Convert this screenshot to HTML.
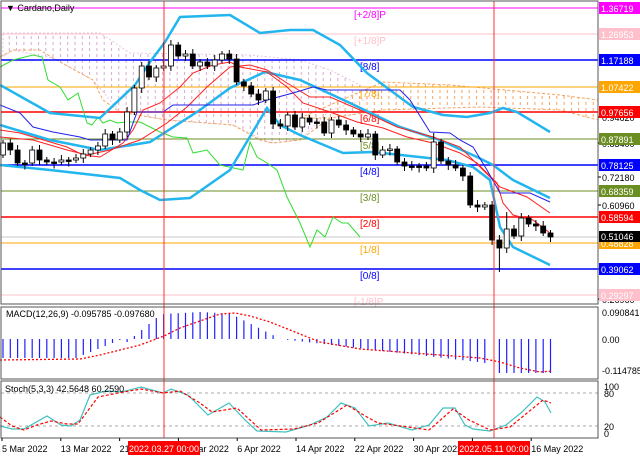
<!DOCTYPE html>
<html><head><meta charset="utf-8"><style>
body{margin:0;background:#fff;width:640px;height:457px;overflow:hidden}
svg{display:block;font-family:"Liberation Sans",sans-serif}
</style></head><body>
<svg id="s" width="640" height="457" xmlns="http://www.w3.org/2000/svg">
<defs>
<pattern id="pk" width="7.3" height="6" patternUnits="userSpaceOnUse"><line x1="2" y1="0" x2="2" y2="3" stroke="#d8a8d0" stroke-width="1"/></pattern>
<pattern id="or" width="7.3" height="6" patternUnits="userSpaceOnUse"><line x1="2" y1="0" x2="2" y2="3" stroke="#f4a460" stroke-width="1"/></pattern>
</defs>
<rect width="640" height="457" fill="#fff"/>
<g id="g"></g>
</svg>
<script>
var g=document.getElementById('g'),h='';
function X(d){return 3+7.3*d}
function pl(pts,c,w,da){h+='<polyline fill="none" stroke="'+c+'" stroke-width="'+w+'"'+(da?' stroke-dasharray="'+da+'"':'')+' points="'+pts.map(p=>p.join(',')).join(' ')+'"/>';}
function tx(x,y,t,c,s,a){h+='<text x="'+x+'" y="'+y+'" fill="'+c+'" font-size="'+(s||10)+'"'+(a?' text-anchor="'+a+'"':'')+'>'+t+'</text>';}
h+='<polygon fill="url(#pk)" stroke="#e8c8e0" stroke-dasharray="2,2" points="3,33 100,33 130,53 250,55 300,60 330,70 380,95 330,110 300,140 270,143 233,125 167,120 120,112 93,80 53,58 13,50 3,57"/>';
h+='<polygon fill="url(#or)" stroke="#f4a460" stroke-dasharray="3,2" points="300,118 383,82 450,85 560,95 598,100 598,120 560,110 480,107 383,110 330,118"/>';
pl([[0,57],[13,50],[40,50],[53,58],[80,73],[93,80],[103,100],[120,112],[167,120],[233,125],[260,140],[273,143],[300,140],[330,118]],'#f4a460',1,'3,2');
var L=[[8,'#ff00ff','[+2/8]P','1.36719'],[34,'#ffc0cb','[+1/8]P','1.26953'],[60,'#0000ff','[8/8]','1.17188'],[87,'#ffa500','[7/8]','1.07422'],[112,'#ff0000','[6/8]','0.97656'],[139,'#6b8e23','[5/8]','0.87891'],[165,'#0000ff','[4/8]','0.78125'],[191,'#6b8e23','[3/8]','0.68359'],[217,'#ff0000','[2/8]','0.58594'],[243,'#ffa500','[1/8]','0.48828'],[269,'#0000ff','[0/8]','0.39062'],[295,'#ffc0cb','[-1/8]P','0.29297']];
L.forEach(l=>{h+='<line x1="1" x2="598" y1="'+l[0]+'" y2="'+l[0]+'" stroke="'+l[1]+'" stroke-width="'+(l[1]=='#ff0000'||l[1]=='#0000ff'?1.5:1)+'"/>';});
h+='<line x1="1" x2="598" y1="237" y2="237" stroke="#c8c8c8"/>';
L.forEach(l=>{tx(l[2].indexOf('P')>0?354:360,l[0]+10,l[2],l[1],10);});
pl([[0,67],[13,60],[33,55],[42,57],[48,80],[60,87],[68,100],[78,93],[87,123],[92,125],[98,117],[103,123],[110,120],[117,123],[127,122],[140,122],[150,127],[160,132],[173,137],[187,138],[193,153],[207,150],[220,165],[243,170],[250,142],[257,157],[267,163],[277,170],[287,197],[300,223],[310,247],[317,230],[325,237],[333,217],[342,223],[348,223],[360,237]],'#33dd33',1);
var cy='#22b5ee';
pl([[0,85],[50,113],[100,118],[135,85],[150,62],[165,42],[180,17],[230,15],[260,33],[290,30],[313,30],[340,45],[367,73],[390,90],[413,107],[443,115],[467,117],[490,113],[503,108],[517,112],[550,132]],cy,2.5);
pl([[0,125],[50,140],[100,150],[150,142],[200,110],[230,88],[265,72],[300,80],[350,103],[400,127],[440,140],[477,157],[493,165],[513,180],[550,198]],cy,2.5);
pl([[0,165],[50,170],[120,178],[140,190],[160,200],[190,198],[230,170],[267,108],[280,125],[300,135],[343,153],[373,152],[447,160],[473,167],[490,180],[500,227],[513,247],[550,265]],cy,2.5);
pl([[0,130],[20,133],[67,147],[83,155],[100,157],[123,143],[133,130],[143,110],[160,103],[180,87],[193,73],[213,65],[230,62],[240,67],[267,72],[287,87],[303,103],[330,112],[357,122],[383,128],[407,137],[433,143],[460,153],[477,163],[497,183],[503,203],[513,215],[533,220],[550,233]],'#ff2020',1);
pl([[0,137],[33,140],[67,150],[87,155],[110,150],[140,140],[167,123],[187,107],[207,87],[230,67],[250,65],[267,70],[287,83],[310,97],[330,97],[367,113],[397,127],[433,137],[460,147],[480,167],[500,187],[527,197],[550,213]],'#ff2020',1);
pl([[0,105],[20,113],[33,127],[53,132],[80,137],[90,140],[127,140],[137,112],[163,112],[173,105],[253,105],[267,100],[293,93],[313,87],[327,90],[400,90],[410,100],[430,132],[450,133],[460,140],[473,147],[487,170],[500,193],[530,193],[550,202]],'#2020ee',1);
var C=[143,150,163,163,150,160,162,162,160,160,158,154,150,146,134,140,132,112,88,66,77,68,66,45,56,54,66,62,66,60,54,59,82,86,94,100,91,124,126,115,127,118,122,122,133,120,125,130,134,137,134,155,150,149,162,166,166,166,168,142,161,165,168,176,205,207,205,240,248,229,236,218,224,226,233,237];
var prev=155;
C.forEach((c,i)=>{var o=prev,x=X(i),t=Math.min(o,c),b=Math.max(o,c);if(b-t<1.5){b=t+1.5}
var hi=t-3-(i%3),lo=b+3+(i%2)*2;if(i==22)hi=42;if(i==59)hi=133;if(i==68)lo=272;if(i==69)hi=212;
h+='<line x1="'+x+'" x2="'+x+'" y1="'+hi+'" y2="'+lo+'" stroke="#000"/>';
h+='<rect x="'+(x-2.5)+'" y="'+t+'" width="5" height="'+(b-t)+'" fill="'+(c<o?'#fff':'#000')+'" stroke="#000" stroke-width="0.8"/>';prev=c;});
for(var i=0;i<76;i++){var x=X(i),v;
 if(i<11)v=358;else if(i<17)v=358-(i-10)*3;else if(i<22)v=342-(i-17)*6;else if(i<32)v=312+Math.abs(i-27)*0.4;else if(i<39)v=313+(i-31)*3.7;else if(i<67)v=339+(i-38)*0.85;else v=373;
 if(i==66)v=363; if(i==67)continue;
 h+='<line x1="'+x+'" x2="'+x+'" y1="339" y2="'+v+'" stroke="#2020ff" stroke-width="1.2"/>';}
pl([[0,360],[80,359],[100,355],[120,350],[140,345],[164,336],[180,328],[200,321],[220,314],[235,313],[250,316],[270,322],[290,330],[320,342],[360,349],[400,352],[440,355],[480,358],[500,362],[520,368],[540,372],[552,371]],'#ff0000',1.3,'2,2');
h+='<line x1="1" x2="598" y1="393" y2="393" stroke="#aaa" stroke-dasharray="3,3"/><line x1="1" x2="598" y1="426" y2="426" stroke="#aaa" stroke-dasharray="3,3"/>';
pl([[0,426],[12,429],[24,429],[47,416],[61,425],[71,426],[80,420],[90,395],[106,391],[122,392],[141,387],[163,393],[171,389],[188,395],[208,415],[229,403],[245,420],[257,431],[286,432],[310,425],[327,417],[341,403],[355,408],[369,426],[388,423],[412,430],[429,425],[443,408],[455,408],[465,425],[473,429],[490,431],[506,425],[522,412],[537,397],[545,402],[551,413]],'#40c0c0',1.2);
pl([[0,417],[12,426],[24,430],[37,425],[51,421],[67,424],[78,424],[98,397],[118,393],[141,389],[163,393],[180,391],[200,403],[212,412],[237,408],[261,430],[294,429],[318,423],[347,405],[367,417],[378,423],[408,427],[429,430],[453,409],[469,420],[490,430],[510,427],[543,400],[551,403]],'#ff0000',1.2,'3,2');
h+='<line x1="164" x2="164" y1="1" y2="438" stroke="#ff3030"/><line x1="494" x2="494" y1="1" y2="438" stroke="#ff3030"/>';
h+='<rect x="1" y="1" width="597" height="303" fill="none" stroke="#555"/><rect x="1" y="307" width="597" height="72" fill="none" stroke="#555"/><rect x="1" y="381" width="597" height="57" fill="none" stroke="#555"/>';
tx(6,11,'▼ Cardano,Daily','#000',9);
tx(6,317,'MACD(12,26,9) -0.095785 -0.097680','#000',9);
tx(5,392,'Stoch(5,3,3) 42.5648 60.2590','#000',9);
[[121,'0.94620'],[147,'0.83400'],[181,'0.72180'],[209,'0.60960'],[273,'0.39062'],[303,'0.26960']].forEach(t=>{h+='<line x1="598" x2="601" y1="'+(t[0]-4)+'" y2="'+(t[0]-4)+'" stroke="#000"/>';tx(602,t[0],t[1],'#000',9);});
L.forEach(l=>{h+='<rect x="599" y="'+(l[0]-6)+'" width="41" height="12" fill="'+l[1]+'"/>';tx(601,l[0]+4,l[3],'#fff',9);});
h+='<rect x="599" y="231" width="41" height="11" fill="#000"/>';tx(601,240,'0.51046','#fff',9);
tx(602,316,'0.090841','#000',9);tx(602,343,'0.00','#000',9);tx(602,374,'-0.114785','#000',9);
tx(604,390,'100','#000',9);tx(604,397,'80','#000',9);tx(604,430,'20','#000',9);tx(604,437,'0','#000',9);
var D=['5 Mar 2022','13 Mar 2022','21 Mar 2022','29 Mar 2022','6 Apr 2022','14 Apr 2022','22 Apr 2022','30 Apr 2022','8 May 2022','16 May 2022'];
D.forEach((d,i)=>{var x=2+58.8*i;h+='<line x1="'+x+'" x2="'+x+'" y1="438" y2="441" stroke="#000"/>';tx(x,452,d,'#000',9);});
h+='<rect x="128" y="441" width="72" height="14" fill="#ff0000"/>';tx(164,452,'2022.03.27 00:00','#fff',9,'middle');
h+='<rect x="458" y="441" width="72" height="14" fill="#ff0000"/>';tx(494,452,'2022.05.11 00:00','#fff',9,'middle');
g.innerHTML=h;
</script>
</body></html>
